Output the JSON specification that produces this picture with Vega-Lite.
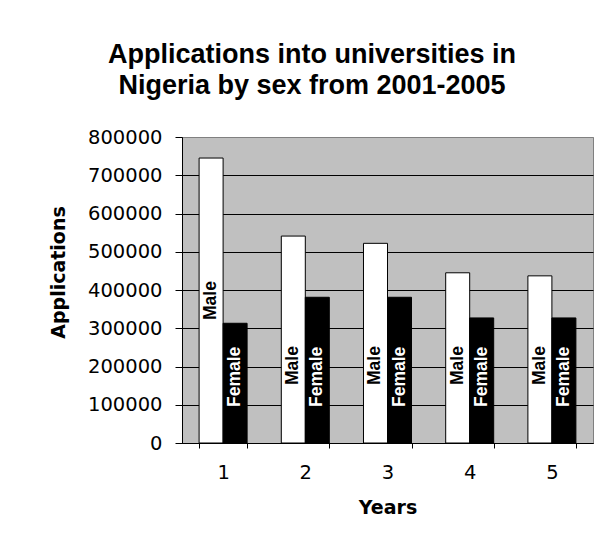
{
  "$schema": "https://vega.github.io/schema/vega-lite/v6.json",
  "width": 411,
  "height": 306,
  "autosize": {"type": "none"},
  "padding": {"left": 182, "top": 137, "right": 18, "bottom": 99},
  "background": "white",
  "title": {
    "text": ["Applications into universities in", "Nigeria by sex from 2001-2005"],
    "font": "Liberation Sans",
    "fontSize": 27,
    "fontWeight": "bold",
    "color": "black",
    "lineHeight": 31,
    "anchor": "middle",
    "frame": "bounds",
    "dx": -9,
    "offset": 27
  },
  "data": {
    "values": [
      {"Year": "1", "Sex": "Male", "Applications": 745000},
      {"Year": "1", "Sex": "Female", "Applications": 313000},
      {"Year": "2", "Sex": "Male", "Applications": 541000},
      {"Year": "2", "Sex": "Female", "Applications": 381000},
      {"Year": "3", "Sex": "Male", "Applications": 522000},
      {"Year": "3", "Sex": "Female", "Applications": 381000},
      {"Year": "4", "Sex": "Male", "Applications": 445000},
      {"Year": "4", "Sex": "Female", "Applications": 327000},
      {"Year": "5", "Sex": "Male", "Applications": 437000},
      {"Year": "5", "Sex": "Female", "Applications": 327000}
    ]
  },
  "encoding": {
    "x": {
      "field": "Year",
      "type": "ordinal",
      "scale": {"paddingInner": 0.416, "paddingOuter": 0.208},
      "axis": {
        "title": "Years",
        "labelAngle": 0,
        "labelFont": "DejaVu Sans",
        "labelFontSize": 19.5,
        "labelColor": "black",
        "labelPadding": 15,
        "tickBand": "extent",
        "tickSize": 5,
        "tickColor": "black",
        "domainColor": "black",
        "titleFont": "DejaVu Sans",
        "titleFontSize": 19,
        "titleFontWeight": "bold",
        "titleColor": "black",
        "titlePadding": 17
      }
    },
    "xOffset": {"field": "Sex", "type": "nominal", "sort": ["Male", "Female"], "scale": {"paddingInner": 0, "paddingOuter": 0}}
  },
  "resolve": {"axis": {"y": "independent"}},
  "layer": [
    {
      "mark": {"type": "bar", "stroke": "black", "strokeWidth": 1},
      "encoding": {
        "y": {
          "field": "Applications",
          "type": "quantitative",
          "scale": {"domain": [0, 800000], "nice": false},
          "axis": {
            "title": "Applications",
            "values": [0, 100000, 200000, 300000, 400000, 500000, 600000, 700000, 800000],
            "format": "d",
            "labelOverlap": false,
            "labelFont": "DejaVu Sans",
            "labelFontSize": 19.5,
            "labelColor": "black",
            "labelPadding": 13,
            "tickSize": 7,
            "tickColor": "black",
            "domainColor": "black",
            "grid": true,
            "gridColor": {"condition": {"test": "datum.value == 800000", "value": "#808080"}, "value": "black"},
            "gridWidth": 1,
            "titleFont": "DejaVu Sans",
            "titleFontSize": 19,
            "titleFontWeight": "bold",
            "titleColor": "black",
            "titleAngle": 270,
            "titleAlign": "center",
            "titleBaseline": "middle",
            "titleX": -124,
            "titleY": 135
          }
        },
        "fill": {"field": "Sex", "type": "nominal", "scale": {"domain": ["Male", "Female"], "range": ["white", "black"]}, "legend": null}
      }
    },
    {
      "transform": [{"filter": "datum.Sex == 'Female'"}],
      "mark": {"type": "text", "angle": 270, "align": "left", "baseline": "middle", "dx": 36, "font": "Liberation Sans", "fontSize": 17.5, "fontWeight": "bold", "color": "white"},
      "encoding": {"y": {"datum": 0, "type": "quantitative", "axis": null}, "text": {"field": "Sex"}}
    },
    {
      "transform": [{"filter": "datum.Sex == 'Male' && datum.Year != '1'"}],
      "mark": {"type": "text", "angle": 270, "align": "left", "baseline": "middle", "dx": 58, "font": "Liberation Sans", "fontSize": 17.5, "fontWeight": "bold", "color": "black"},
      "encoding": {"y": {"datum": 0, "type": "quantitative", "axis": null}, "text": {"field": "Sex"}}
    },
    {
      "transform": [{"filter": "datum.Sex == 'Male' && datum.Year == '1'"}],
      "mark": {"type": "text", "angle": 270, "align": "left", "baseline": "middle", "dx": 123, "font": "Liberation Sans", "fontSize": 17.5, "fontWeight": "bold", "color": "black"},
      "encoding": {"y": {"datum": 0, "type": "quantitative", "axis": null}, "text": {"field": "Sex"}}
    }
  ],
  "config": {
    "view": {"fill": "#C0C0C0", "stroke": "#808080", "strokeWidth": 1}
  }
}
